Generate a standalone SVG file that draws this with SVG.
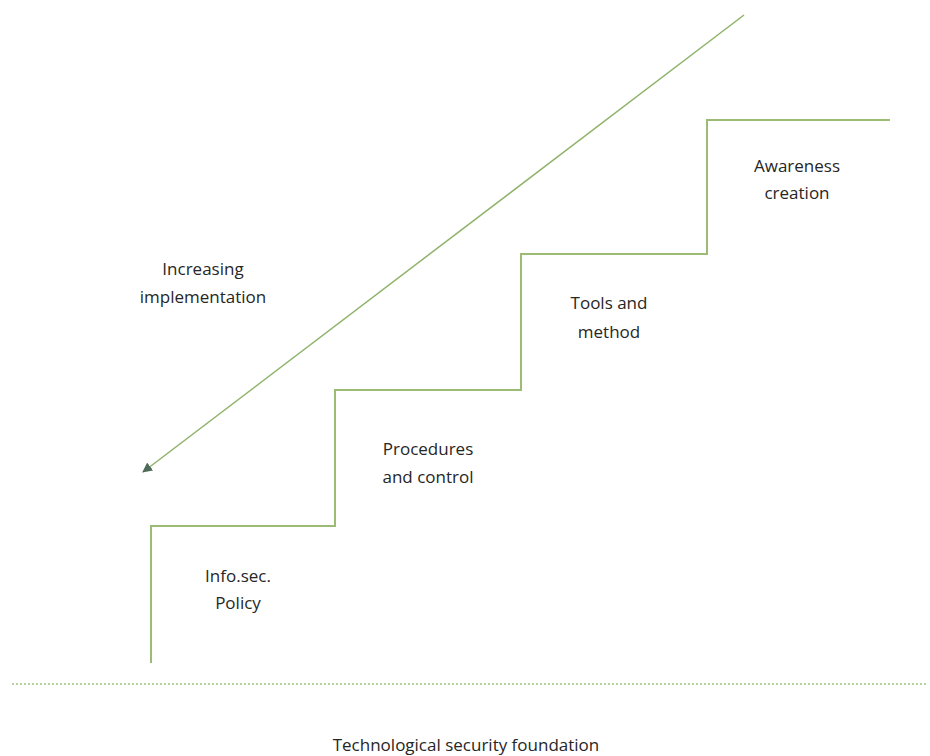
<svg xmlns="http://www.w3.org/2000/svg" width="930" height="756" viewBox="0 0 930 756">
  <style>
    .stair { fill: none; stroke: #9cbb74; stroke-width: 2; }
    .arrow { fill: none; stroke: #8fb36a; stroke-width: 1.5; }
    .base { fill: none; stroke: #b5d39a; stroke-width: 2; stroke-dasharray: 2 2; }
    .lbl { font-family: "Open Sans", "Liberation Sans", sans-serif; font-size: 17px; fill: #262626; text-anchor: middle; }
  </style>
  <defs>
    <marker id="head" viewBox="0 0 10 10" refX="9" refY="5" markerWidth="10" markerHeight="10" orient="auto" markerUnits="userSpaceOnUse">
      <path d="M0,0 L10,5 L0,10 z" fill="#4e6b5a"/>
    </marker>
  </defs>
  <rect width="930" height="756" fill="#ffffff"/>

  <g id="connectors">
    <path class="stair" d="M151,663 V526 H335 V390 H521 V254 H707 V120 H890"/>
    <line class="arrow" x1="744" y1="15" x2="143" y2="472" marker-end="url(#head)"/>
    <line class="base" x1="12" y1="684" x2="928" y2="684"/>
  </g>

  <g id="increasing">
    <text class="lbl" x="203" y="275">Increasing</text>
    <text class="lbl" x="203" y="303">implementation</text>
  </g>
  <g id="awareness">
    <text class="lbl" x="797" y="172">Awareness</text>
    <text class="lbl" x="797" y="199">creation</text>
  </g>
  <g id="tools">
    <text class="lbl" x="609" y="309">Tools and</text>
    <text class="lbl" x="609" y="338">method</text>
  </g>
  <g id="procedures">
    <text class="lbl" x="428" y="455">Procedures</text>
    <text class="lbl" x="428" y="483">and control</text>
  </g>
  <g id="policy">
    <text class="lbl" x="238" y="582">Info.sec.</text>
    <text class="lbl" x="238" y="609">Policy</text>
  </g>
  <g id="foundation">
    <text class="lbl" x="466" y="751">Technological security foundation</text>
  </g>
</svg>
